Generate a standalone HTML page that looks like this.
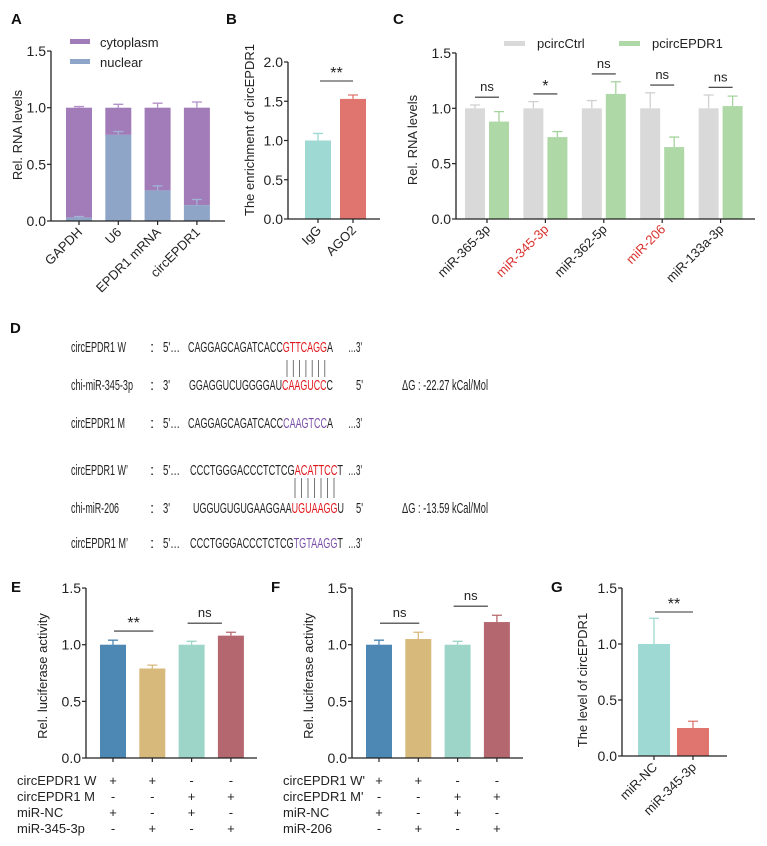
<!DOCTYPE html>
<html><head><meta charset="utf-8"><style>
html,body{margin:0;padding:0;background:#fff;}
svg{display:block;font-family:"Liberation Sans",Arial,sans-serif;}
</style></head><body>
<svg id="fig" width="767" height="846" viewBox="0 0 767 846" xmlns="http://www.w3.org/2000/svg">
<g font-weight="bold" font-size="15" fill="#111">
<text x="11" y="24">A</text>
<text x="226" y="24">B</text>
<text x="393" y="24">C</text>
<text x="10" y="333">D</text>
<text x="11" y="592">E</text>
<text x="271" y="592">F</text>
<text x="551" y="592">G</text>
</g>
<!-- Panel D sequences -->
<g font-size="15" fill="#222">
<g>
<text x="71" y="352" textLength="55" lengthAdjust="spacingAndGlyphs">circEPDR1 W</text>
<text x="150" y="352">:</text><text x="163" y="352" textLength="17" lengthAdjust="spacingAndGlyphs">5'…</text>
<text x="188" y="352" textLength="145" lengthAdjust="spacingAndGlyphs">CAGGAGCAGATCACC<tspan fill="#e0161b">GTTCAGG</tspan>A</text>
<text x="348" y="352" textLength="14" lengthAdjust="spacingAndGlyphs">…3'</text></g>
<g>
<text x="71" y="390" textLength="62" lengthAdjust="spacingAndGlyphs">chi-miR-345-3p</text>
<text x="150" y="390">:</text><text x="163" y="390" textLength="7" lengthAdjust="spacingAndGlyphs">3'</text>
<text x="189" y="390" textLength="144" lengthAdjust="spacingAndGlyphs">GGAGGUCUGGGGAU<tspan fill="#e0161b">CAAGUCC</tspan>C</text>
<text x="356" y="390" textLength="7" lengthAdjust="spacingAndGlyphs">5'</text>
<text x="402" y="390" textLength="86" lengthAdjust="spacingAndGlyphs">ΔG :  -22.27 kCal/Mol</text></g>
<g>
<text x="71" y="428" textLength="54" lengthAdjust="spacingAndGlyphs">circEPDR1 M</text>
<text x="150" y="428">:</text><text x="163" y="428" textLength="17" lengthAdjust="spacingAndGlyphs">5'…</text>
<text x="188" y="428" textLength="145" lengthAdjust="spacingAndGlyphs">CAGGAGCAGATCACC<tspan fill="#7a4fa8">CAAGTCC</tspan>A</text>
<text x="348" y="428" textLength="14" lengthAdjust="spacingAndGlyphs">…3'</text></g>
<g>
<text x="71" y="475" textLength="57" lengthAdjust="spacingAndGlyphs">circEPDR1 W’</text>
<text x="150" y="475">:</text><text x="163" y="475" textLength="17" lengthAdjust="spacingAndGlyphs">5'…</text>
<text x="190" y="475" textLength="153" lengthAdjust="spacingAndGlyphs">CCCTGGGACCCTCTCG<tspan fill="#e0161b">ACATTCC</tspan>T</text>
<text x="348" y="475" textLength="14" lengthAdjust="spacingAndGlyphs">…3'</text></g>
<g>
<text x="71" y="513" textLength="48" lengthAdjust="spacingAndGlyphs">chi-miR-206</text>
<text x="150" y="513">:</text><text x="163" y="513" textLength="7" lengthAdjust="spacingAndGlyphs">3'</text>
<text x="193" y="513" textLength="151" lengthAdjust="spacingAndGlyphs">UGGUGUGUGAAGGAA<tspan fill="#e0161b">UGUAAGG</tspan>U</text>
<text x="356" y="513" textLength="7" lengthAdjust="spacingAndGlyphs">5'</text>
<text x="402" y="513" textLength="86" lengthAdjust="spacingAndGlyphs">ΔG :  -13.59 kCal/Mol</text></g>
<g>
<text x="71" y="548" textLength="57" lengthAdjust="spacingAndGlyphs">circEPDR1 M’</text>
<text x="150" y="548">:</text><text x="163" y="548" textLength="17" lengthAdjust="spacingAndGlyphs">5'…</text>
<text x="190" y="548" textLength="153" lengthAdjust="spacingAndGlyphs">CCCTGGGACCCTCTCG<tspan fill="#7a4fa8">TGTAAGG</tspan>T</text>
<text x="348" y="548" textLength="14" lengthAdjust="spacingAndGlyphs">…3'</text></g>
<g stroke="#555" stroke-width="0.8">
<path d="M287 360V377M293.3 360V377M299.6 360V377M305.9 360V377M312.2 360V377M318.5 360V377M324.8 360V377"/>
<path d="M295 478V498M301.5 478V498M308 478V498M314.5 478V498M321 478V498M327.5 478V498M334 478V498"/>
</g>
</g>
<g id="charts"></g>
</svg>
<script>
// Panel A
const aCategories = ["GAPDH","U6","EPDR1 mRNA","circEPDR1"];
const aNuclear = [0.03,0.76,0.27,0.14];
const aNuclearErr = [0.01,0.03,0.04,0.05];
const aTotal = [1.0,1.0,1.0,1.0];
const aTotalErr = [0.01,0.03,0.04,0.05];
const aTicks = ["0.0","0.5","1.0","1.5"];
// Panel B
const bCategories = ["IgG","AGO2"];
const bValues = [1.0,1.53];
const bErr = [0.09,0.05];
const bTicks = ["0.0","0.5","1.0","1.5","2.0"];
// Panel C
const cCategories = ["miR-365-3p","miR-345-3p","miR-362-5p","miR-206","miR-133a-3p"];
const cCtrl = [1,1,1,1,1];
const cCtrlErr = [0.03,0.06,0.07,0.14,0.12];
const cCirc = [0.88,0.74,1.13,0.65,1.02];
const cCircErr = [0.09,0.05,0.11,0.09,0.09];
const cSig = ["ns","*","ns","ns","ns"];
const cTicks = ["0.0","0.5","1.0","1.5"];
// Panels E, F, G
const eValues = [1.0,0.79,1.0,1.08];
const eErr = [0.04,0.03,0.03,0.03];
const fValues = [1.0,1.05,1.0,1.2];
const fErr = [0.04,0.06,0.03,0.06];
const gCategories = ["miR-NC","miR-345-3p"];
const gValues = [1.0,0.25];
const gErr = [0.23,0.06];
const lucTicks = ["0.0","0.5","1.0","1.5"];
const eRows = ["circEPDR1 W","circEPDR1 M","miR-NC","miR-345-3p"];
const fRows = ["circEPDR1 W'","circEPDR1 M'","miR-NC","miR-206"];
const signs = [["+","+","-","-"],["-","-","+","+"],["+","-","+","-"],["-","+","-","+"]];

const NS="http://www.w3.org/2000/svg";
const root=document.getElementById('charts');
function mk(tag,attrs,parent,txt){const e=document.createElementNS(NS,tag);for(const k in attrs)e.setAttribute(k,attrs[k]);if(txt!==undefined)e.textContent=txt;(parent||root).appendChild(e);return e;}
function axes(g,x0,x1,y0,ppu,ticks,step){
  const l=mk('line',{x1:x0,y1:y0,x2:x1,y2:y0,stroke:'#222','stroke-width':1.3},g);
  
  
  const top=y0-ppu*step*(ticks.length-1);
  const v=mk('line',{x1:x0,y1:y0,x2:x0,y2:top,stroke:'#222','stroke-width':1.3},g);
  
  
  ticks.forEach((t,i)=>{const y=y0-ppu*step*i;
    mk('line',{x1:x0-4,y1:y,x2:x0,y2:y,stroke:'#222','stroke-width':1.2},g);
    const tx=mk('text',{x:x0-5,y:y+5,'text-anchor':'end','font-size':14,fill:'#222'},g,t);
    
    });
}
function bar(g,x,w,y0,ppu,v,err,fill,ecol,base){
  base=base||0;
  const r=mk('rect',{x:x,y:y0-ppu*v,width:w,height:ppu*(v-base),fill:fill},g);
  
  
  const cx=x+w/2,yt=y0-ppu*v,ye=y0-ppu*(v+err);
  mk('path',{d:`M${cx} ${yt}V${ye}M${cx-5} ${ye}H${cx+5}`,stroke:ecol,'stroke-width':1.3,fill:'none'},g);
}
function ytitle(g,x,y,t){const e=mk('text',{x:x,y:y,transform:`rotate(-90 ${x} ${y})`,'text-anchor':'middle','font-size':13,fill:'#222'},g,t);
  }
function xlab(g,cx,y,t,col){const e=mk('text',{x:cx+4,y:y,transform:`rotate(-45 ${cx+4} ${y})`,'text-anchor':'end','font-size':13,fill:col||'#222'},g,t);
  }
function xt(g,cx,y0){mk('line',{x1:cx,y1:y0,x2:cx,y2:y0+4,stroke:'#222','stroke-width':1.2},g);}
function sig(g,xa,xb,y,t){mk('line',{x1:xa,y1:y,x2:xb,y2:y,stroke:'#333','stroke-width':1.1},g);
  const e=mk('text',{x:(xa+xb)/2,y:t.indexOf('*')>=0?y-3:y-6,'text-anchor':'middle','font-size':t.indexOf('*')>=0?16:13,fill:'#222'},g,t);
  }

// ---- A
(function(){const g=mk('g',{});
 const y0=221,ppu=113.3,x0=51;
 aCategories.forEach((c,i)=>{const x=66+i*39.3,w=26;
   bar(g,x,w,y0,ppu,aTotal[i],aTotalErr[i],'#a27cb8','#b48fca',aNuclear[i]);
   bar(g,x,w,y0,ppu,aNuclear[i],aNuclearErr[i],'#8fa5c8','#9fb4d4');
   xt(g,x+w/2,y0);xlab(g,x+w/2,233,c);});
 axes(g,x0,225,y0,ppu,aTicks,0.5);
 ytitle(g,22,135,'Rel. RNA  levels');
 mk('rect',{x:70,y:39,width:20,height:5,fill:'#a27cb8'},g);mk('text',{x:100,y:47,'font-size':13,fill:'#222'},g,'cytoplasm');
 mk('rect',{x:70,y:59,width:20,height:5,fill:'#8fa5c8'},g);mk('text',{x:100,y:67,'font-size':13,fill:'#222'},g,'nuclear');
})();
// ---- B
(function(){const g=mk('g',{});
 const y0=219,ppu=78.5,x0=288;const cols=['#9fd9d3','#df756e'];
 bValues.forEach((v,i)=>{const x=305+i*35,w=26;bar(g,x,w,y0,ppu,v,bErr[i],cols[i],cols[i]);xt(g,x+w/2,y0);xlab(g,x+w/2,231,bCategories[i]);});
 axes(g,x0,380,y0,ppu,bTicks,0.5);
 ytitle(g,254,130,'The enrichment of circEPDR1');
 sig(g,320,353,81,'**');
})();
// ---- C
(function(){const g=mk('g',{});
 const y0=219,ppu=110.7,x0=456;
 cCategories.forEach((c,i)=>{const x=465+i*58.4,w=20;
   bar(g,x,w,y0,ppu,cCtrl[i],cCtrlErr[i],'#d9d9d9','#d0d0d0');
   bar(g,x+24,w,y0,ppu,cCirc[i],cCircErr[i],'#aed8a6','#a6d39d');
   xt(g,x+22,y0);
   xlab(g,x+22,230,c,(i==1||i==3)?'#d9302c':'#222');
   const top=Math.max(cCtrl[i]+cCtrlErr[i],cCirc[i]+cCircErr[i]);
   sig(g,x+10,x+34,y0-ppu*(top+0.07),cSig[i]);});
 axes(g,x0,755,y0,ppu,cTicks,0.5);
 ytitle(g,417,140,'Rel. RNA levels');
 mk('rect',{x:504,y:41,width:21,height:5,fill:'#d9d9d9'},g);mk('text',{x:537,y:48,'font-size':13,fill:'#222'},g,'pcircCtrl');
 mk('rect',{x:619,y:41,width:21,height:5,fill:'#aed8a6'},g);mk('text',{x:652,y:48,'font-size':13,fill:'#222'},g,'pcircEPDR1');
})();
// ---- E & F
function lucPanel(name,x0,vals,errs,rows,labX,sigs){
 const g=mk('g',{});
 const y0=758,ppu=113.3;const cols=['#4d87b3','#d8b97c','#9dd5c9','#b5676f'];
 const cx=[];
 vals.forEach((v,i)=>{const x=x0+14+i*39.3,w=26;bar(g,x,w,y0,ppu,v,errs[i],cols[i],cols[i]);xt(g,x+w/2,y0);cx.push(x+w/2);});
 axes(g,x0,x0+171,y0,ppu,lucTicks,0.5);
 ytitle(g,x0-39,676,'Rel. luciferase activity');
 rows.forEach((r,j)=>{const y=785+j*16;const t=mk('text',{x:labX,y:y,'font-size':13,fill:'#222'},g,r);
   
   signs[j].forEach((s,i)=>mk('text',{x:cx[i],y:y,'text-anchor':'middle','font-size':13,fill:'#222'},g,s));});
 sig(g,cx[0]+1,cx[1]+1,y0-ppu*Math.max(vals[0]+errs[0],vals[1]+errs[1])-ppu*0.08,sigs[0]);
 sig(g,cx[2]-4,cx[3]-9,y0-ppu*Math.max(vals[2]+errs[2],vals[3]+errs[3])-ppu*0.08,sigs[1]);
}
lucPanel('panel-e-chart',86,eValues,eErr,eRows,17,['**','ns']);
lucPanel('panel-f-chart',352,fValues,fErr,fRows,283,['ns','ns']);
// ---- G
(function(){const g=mk('g',{});
 const y0=756,ppu=112;const x0=622;const cols=['#9fd9d3','#df756e'];
 gValues.forEach((v,i)=>{const x=638+i*39,w=32;bar(g,x,w,y0,ppu,v,gErr[i],cols[i],cols[i]);xt(g,x+w/2,y0);xlab(g,x+w/2,768,gCategories[i]);});
 axes(g,x0,727,y0,ppu,lucTicks,0.5);
 ytitle(g,587,680,'The level of circEPDR1');
 sig(g,655,693,612,'**');
})();
</script>
</body></html>
